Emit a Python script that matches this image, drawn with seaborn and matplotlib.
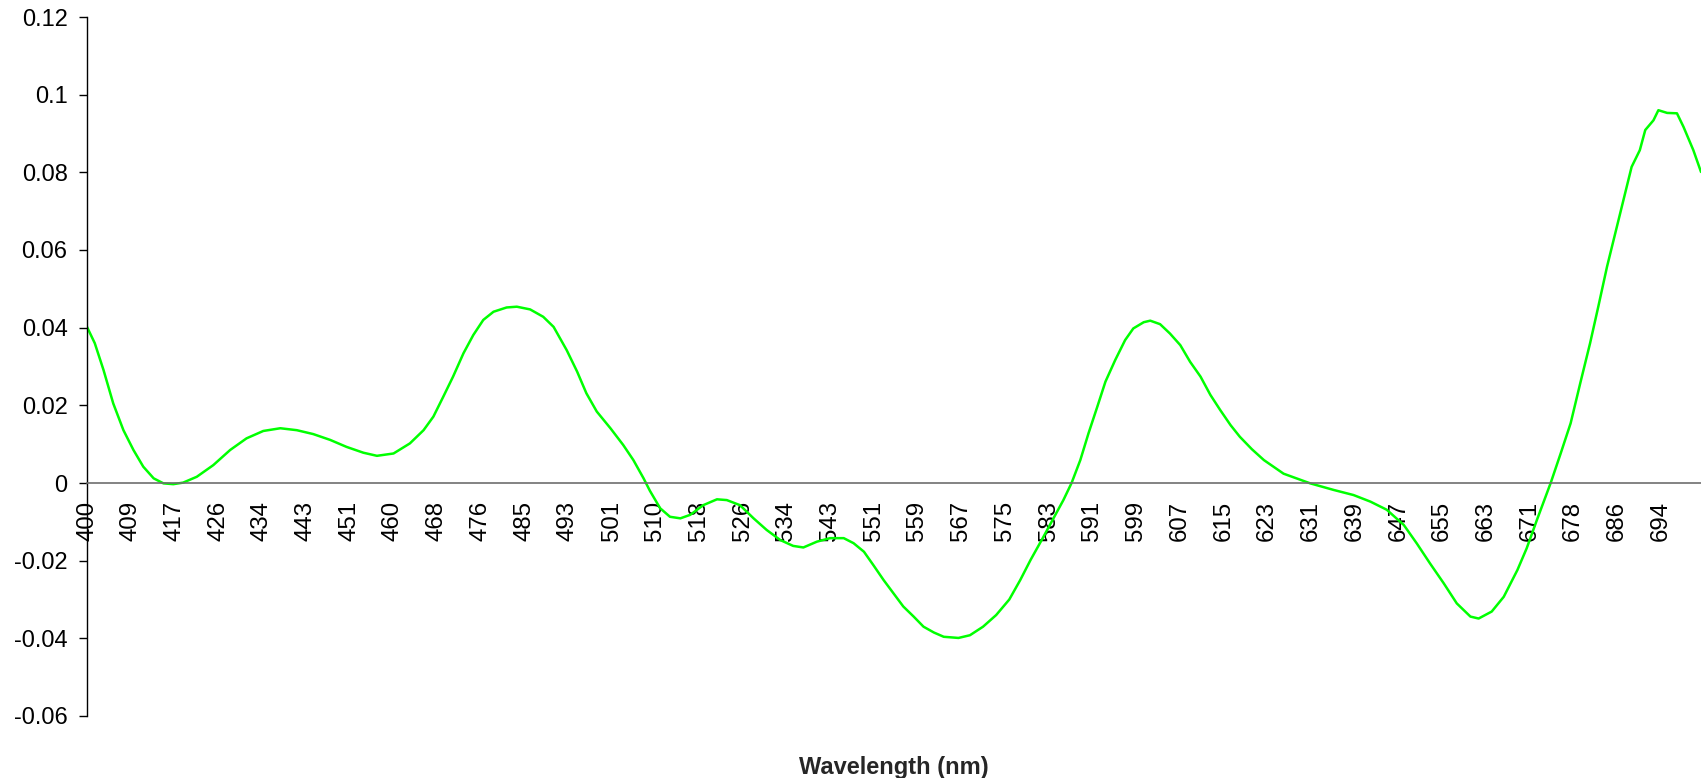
import numpy as np
import matplotlib
matplotlib.use("Agg")
import matplotlib.pyplot as plt
from matplotlib.ticker import FixedLocator, FuncFormatter
import seaborn as sns

# ---- data ----
tick_wavelengths = [400, 409, 417, 426, 434, 443, 451, 460, 468, 476, 485, 493, 501,
                    510, 518, 526, 534, 543, 551, 559, 567, 575, 583, 591, 599, 607,
                    615, 623, 631, 639, 647, 655, 663, 671, 678, 686, 694]

wavelength = [
    400.0, 401.6, 403.4, 405.4, 407.5, 409.5, 411.3, 413.2, 415.0, 416.8,
    418.8, 421.6, 425.0, 428.2, 431.2, 434.3, 437.8, 441.2, 444.4, 447.5,
    450.5, 453.9, 456.7, 460.1, 463.1, 465.6, 467.4, 469.2, 471.0, 472.9,
    474.7, 476.6, 478.7, 481.4, 483.5, 486.1, 488.5, 490.4, 492.8, 494.7,
    496.4, 498.3, 500.8, 503.4, 505.5, 507.6, 508.9, 510.9, 512.7, 514.6,
    516.4, 518.8, 521.3, 523.1, 525.5, 528.0, 530.4, 532.9, 535.4, 537.5,
    540.3, 543.0, 545.5, 547.3, 549.2, 550.9, 552.8, 554.6, 556.4, 558.3,
    560.1, 562.0, 563.8, 565.6, 566.5, 568.6, 571.0, 573.4, 575.8, 577.8,
    579.7, 581.8, 583.8, 585.7, 587.2, 588.8, 590.3, 591.9, 593.4, 595.2,
    597.0, 598.5, 600.4, 601.6, 603.4, 605.2, 607.1, 608.9, 610.8, 612.6,
    614.4, 616.3, 618.0, 620.2, 622.4, 626.0, 630.9, 635.2, 638.8, 641.9,
    644.9, 648.0, 650.4, 652.8, 655.3, 657.7, 660.2, 661.7, 664.1, 666.3,
    668.8, 670.5, 672.2, 674.4, 676.0, 677.6, 679.3, 681.1, 682.6, 684.2,
    685.7, 687.2, 688.7, 690.2, 691.2, 692.7, 693.6, 695.2, 697.0, 698.2,
    700.0, 701.4]

signal = [
    0.0402, 0.0360, 0.0291, 0.0205, 0.0136, 0.0085, 0.0042, 0.0012, -0.0001, -0.0003,
    0.0001, 0.0016, 0.0046, 0.0085, 0.0115, 0.0134, 0.0141, 0.0136, 0.0126, 0.0111,
    0.0093, 0.0078, 0.0070, 0.0076, 0.0102, 0.0136, 0.0171, 0.0222, 0.0274, 0.0334,
    0.0381, 0.0420, 0.0441, 0.0452, 0.0454, 0.0447, 0.0428, 0.0402, 0.0342, 0.0287,
    0.0231, 0.0184, 0.0141, 0.0098, 0.0059, 0.0012, -0.0020, -0.0065, -0.0087, -0.0091,
    -0.0082, -0.0057, -0.0042, -0.0044, -0.0057, -0.0091, -0.0121, -0.0147, -0.0162, -0.0166,
    -0.0151, -0.0142, -0.0142, -0.0155, -0.0177, -0.0211, -0.0250, -0.0284, -0.0318, -0.0344,
    -0.0370, -0.0385, -0.0396, -0.0398, -0.0399, -0.0392, -0.0370, -0.0340, -0.0300, -0.0250,
    -0.0198, -0.0145, -0.0093, -0.0044, 0.0000, 0.0059, 0.0128, 0.0196, 0.0261, 0.0317,
    0.0368, 0.0398, 0.0414, 0.0418, 0.0409, 0.0385, 0.0355, 0.0312, 0.0274, 0.0227,
    0.0188, 0.0149, 0.0119, 0.0087, 0.0059, 0.0024, -0.0001, -0.0018, -0.0031, -0.0048,
    -0.0069, -0.0108, -0.0156, -0.0207, -0.0258, -0.0310, -0.0344, -0.0349, -0.0331, -0.0293,
    -0.0224, -0.0168, -0.0095, 0.0000, 0.0076, 0.0154, 0.0257, 0.0360, 0.0454, 0.0557,
    0.0643, 0.0728, 0.0814, 0.0857, 0.0909, 0.0934, 0.0960, 0.0953, 0.0952, 0.0917,
    0.0857, 0.0801]

y_ticks = [-0.06, -0.04, -0.02, 0.0, 0.02, 0.04, 0.06, 0.08, 0.1, 0.12]
x_title = "Wavelength (nm)"

# ---- category-like axis: tick labels are evenly spaced ----
tw = np.array(tick_wavelengths, dtype=float)
ti = np.arange(len(tw), dtype=float)
lo_slope = (ti[1] - ti[0]) / (tw[1] - tw[0])
hi_slope = (ti[-1] - ti[-2]) / (tw[-1] - tw[-2])


def fwd(x):
    x = np.asarray(x, dtype=float)
    return np.where(x > tw[-1], ti[-1] + (x - tw[-1]) * hi_slope,
                    np.where(x < tw[0], ti[0] + (x - tw[0]) * lo_slope,
                             np.interp(x, tw, ti)))


def inv(p):
    p = np.asarray(p, dtype=float)
    return np.where(p > ti[-1], tw[-1] + (p - ti[-1]) / hi_slope,
                    np.where(p < ti[0], tw[0] + (p - ti[0]) / lo_slope,
                             np.interp(p, ti, tw)))


sns.set_style("white")
plt.rcParams['font.family'] = ['Liberation Sans', 'DejaVu Sans']

fig = plt.figure(figsize=(17.01, 7.78), dpi=100)
ax = fig.add_axes([87 / 1701, 1 - 716 / 778, 1 - 87 / 1701, (716 - 17) / 778])

ax.set_xscale('function', functions=(fwd, inv))
sns.lineplot(x=wavelength, y=signal, ax=ax, color='#00FF00', linewidth=1.8,
             sort=False, estimator=None)

ax.set_xlim(wavelength[0], wavelength[-1])
ax.set_ylim(y_ticks[0], y_ticks[-1])

ax.xaxis.set_major_locator(FixedLocator(tick_wavelengths))
ax.xaxis.set_minor_locator(FixedLocator([]))
ax.xaxis.set_major_formatter(FuncFormatter(lambda v, p: f"{v:.0f}"))
ax.yaxis.set_major_locator(FixedLocator(y_ticks))
ax.yaxis.set_major_formatter(FuncFormatter(lambda v, p: f"{round(v, 2):g}"))

for s in ['top', 'right']:
    ax.spines[s].set_visible(False)
ax.spines['left'].set_color('black')
ax.spines['left'].set_linewidth(1.0)
ax.spines['bottom'].set_position(('data', 0))
ax.spines['bottom'].set_color('#6e6e6e')
ax.spines['bottom'].set_linewidth(1.2)

ax.tick_params(axis='x', length=0, pad=13, labelsize=17.3, labelrotation=90,
               colors='black')
ax.tick_params(axis='y', length=5.5, width=1.0, pad=8.5, labelsize=17,
               direction='out', left=True, colors='black')
ax.grid(False)

ax.set_xlabel(x_title, fontsize=17, fontweight='bold')
ax.xaxis.set_label_coords(0.5, -0.057)
ax.set_ylabel("")

fig.savefig("out.png", dpi=100)
